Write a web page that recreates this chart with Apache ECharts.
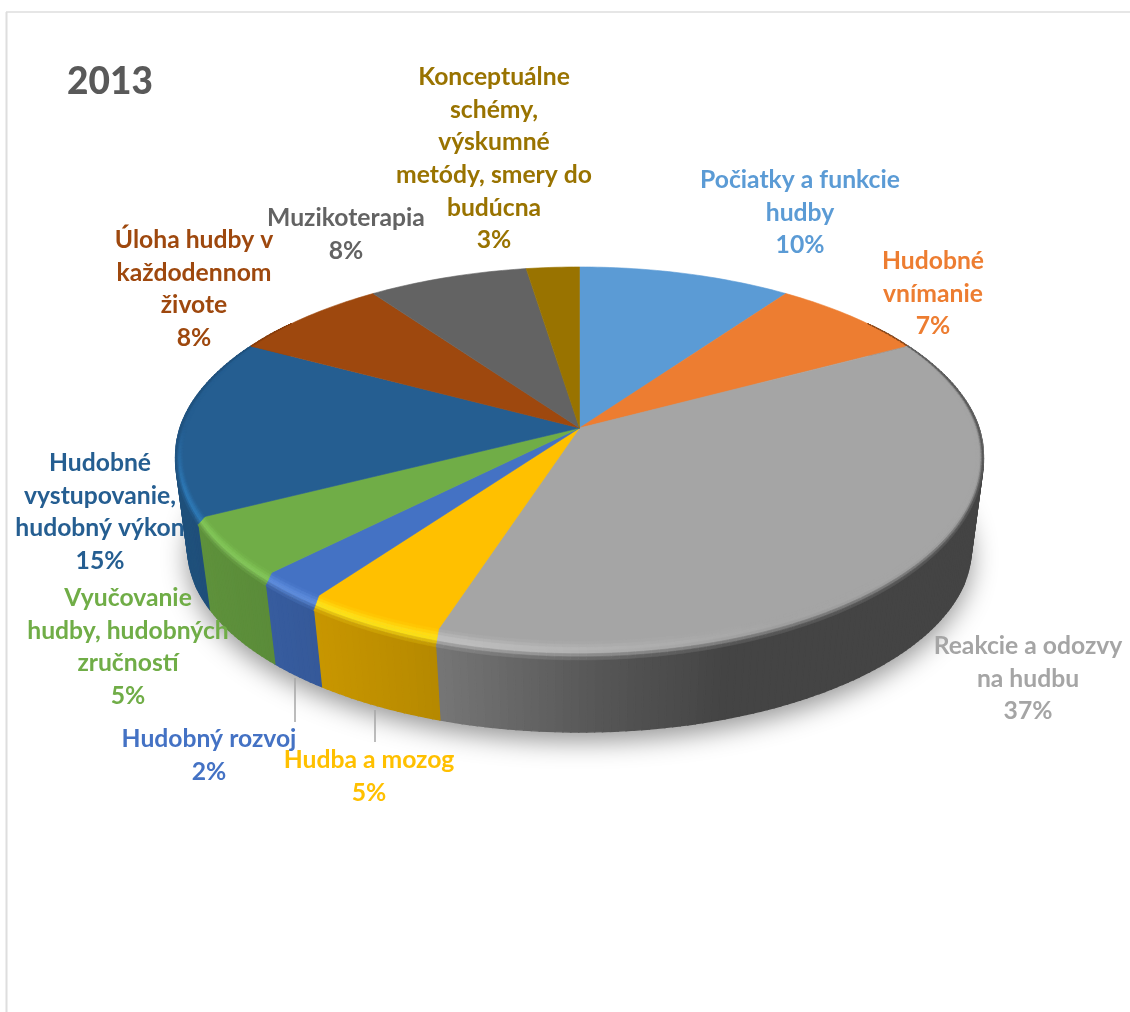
<!DOCTYPE html>
<html><head><meta charset="utf-8">
<style>html,body{margin:0;padding:0;background:#fff}#c{width:1130px;height:1012px}</style>
<script src="https://cdn.jsdelivr.net/npm/echarts@6/dist/echarts.min.js"></script>
</head><body><div id="c"></div>
<script>
const chartTitle = '2013';
const categories = [
  'Počiatky a funkcie\nhudby',
  'Hudobné\nvnímanie',
  'Reakcie a odozvy\nna hudbu',
  'Hudba a mozog',
  'Hudobný rozvoj',
  'Vyučovanie\nhudby, hudobných\nzručností',
  'Hudobné\nvystupovanie,\nhudobný výkon',
  'Úloha hudby v\nkaždodennom\nživote',
  'Muzikoterapia',
  'Konceptuálne\nschémy,\nvýskumné\nmetódy, smery do\nbudúcna'
];
const percentLabels = [10, 7, 37, 5, 2, 5, 15, 8, 8, 3];
const shares = [9.85, 7.3, 37.85, 4.95, 2.45, 5.1, 15.35, 7.3, 7.4, 2.45];

const sliceColors = ['#5b9bd5','#ed7d31','#a5a5a5','#ffc000','#4472c4','#70ad47','#255e91','#9e480e','#636363','#997300'];
const rimColors   = ['#7fb4e4','#f59a5c','#c6c6c6','#ffe81a','#5f8fe0','#84c95a','#2f7cba','#b85a18','#808080','#b58a00'];
const labelCenters = [[800,164],[933,245],[1028,630],[369,744],[209,723],[128,582],[100,447],[194,224],[346,202],[494,61]];
const leaders = [[295,678,295,722],[375,710,375,742]];

// Perspective projection of the pie's unit disc
const CX = 579.5, K = 0.15;
const TOP = {y0:428,   a:185.2, b:399.4};
const BOT = {y0:520.7, a:179.6, b:387.4};
const proj = (d, t, r) => {
  const u = r*Math.sin(t), v = -r*Math.cos(t), den = 1 - K*v;
  return [CX + d.b*u/den, d.y0 + d.a*v/den];
};
const total = shares.reduce((a,b)=>a+b,0);
const starts = []; shares.reduce((acc,v,i)=>{starts[i]=acc; return acc+v;},0);
const ang = p => p/total*2*Math.PI;
const STEP = Math.PI/180;
const angles = (a0,a1) => { const n=Math.max(2,Math.ceil((a1-a0)/STEP)), o=[]; for(let i=0;i<=n;i++)o.push(a0+(a1-a0)*i/n); return o; };

const hex = c => [1,3,5].map(i=>parseInt(c.substr(i,2),16));
const mix = (a,b,f) => a.map((x,i)=>x+(b[i]-x)*f);
const css = a => 'rgb('+a.map(Math.round).join(',')+')';
const lerpTable = (tb,x) => { if(x<=tb[0][0])return tb[0][1]; for(let i=1;i<tb.length;i++){ if(x<=tb[i][0]){const f=(x-tb[i-1][0])/(tb[i][0]-tb[i-1][0]);return tb[i-1][1]+(tb[i][1]-tb[i-1][1])*f;} } return tb[tb.length-1][1]; };
const wallF = x => lerpTable([[180,.85],[320,.78],[440,.71],[600,.52],[730,.41],[990,.41]],x);
const hlF = x => lerpTable([[180,1],[470,.9],[620,.45],[780,0],[990,0]],x);
const smooth = (v,a,b)=>Math.max(0,Math.min(1,(v-a)/(b-a)));
const rimDrop = t => 14*Math.max(0,-Math.cos(t));
const rimEdge = t => { const p=proj(TOP,t,1); return [p[0],p[1]+rimDrop(t)]; };

const poly = (pts,fill,lw) => ({type:'polygon',shape:{points:pts},style:{fill:fill,stroke:fill,lineWidth:lw||.6},silent:true});

function renderWall(params){
  const i=params.dataIndex, base=hex(sliceColors[i]), ch=[];
  const A=angles(ang(starts[i]),ang(starts[i]+shares[i]));
  for(let j=0;j<A.length-1;j++){
    const t0=A[j],t1=A[j+1];
    if(-Math.cos((t0+t1)/2)<-0.6) continue;
    const a=rimEdge(t0),b=rimEdge(t1),c=proj(BOT,t1,1),d=proj(BOT,t0,1);
    const f=wallF((a[0]+b[0])/2);
    ch.push(poly([a,b,c,d],css(base.map(x=>x*f)),1.4));
  }
  return {type:'group',children:ch};
}
function renderTop(params){
  const i=params.dataIndex, col=sliceColors[i], base=hex(col), hl=hex(rimColors[i]), ch=[];
  const A=angles(ang(starts[i]),ang(starts[i]+shares[i]));
  ch.push(poly([[CX,TOP.y0]].concat(A.map(t=>proj(TOP,t,1))),col));
  const NS=6;
  for(let j=0;j<A.length-1;j++){
    const t0=A[j],t1=A[j+1],tm=(t0+t1)/2,vm=-Math.cos(tm);
    const g=smooth(vm,-.62,-.3);
    if(g<=0) continue;
    const rin=t=>1-.018*smooth(-Math.cos(t),-.62,-.3);
    const inner=t=>proj(TOP,t,rin(t)), outer=rimEdge;
    const a0=inner(t0),a1=inner(t1),b0=outer(t0),b1=outer(t1);
    const x=(b0[0]+b1[0])/2, h=hlF(x)*smooth(vm,0,.3), wc=base.map(q=>q*wallF(x));
    const hc=mix(base,hl,h);
    for(let s=0;s<NS;s++){
      const f0=s/NS,f1=(s+1)/NS,fm=(f0+f1)/2;
      const c=fm<.55?mix(base,hc,fm/.55):mix(hc,wc,(fm-.55)/.45);
      const L=(p,q,f)=>[p[0]+(q[0]-p[0])*f,p[1]+(q[1]-p[1])*f];
      ch.push(poly([L(a0,b0,f0),L(a1,b1,f0),L(a1,b1,f1),L(a0,b0,f1)],css(c)));
    }
  }
  return {type:'group',children:ch};
}
function renderShadow(){
  const pts=angles(0,2*Math.PI).map(t=>proj(BOT,t,1));
  return {type:'polygon',shape:{points:pts},silent:true,
    style:{fill:'#bbb',shadowBlur:26,shadowColor:'rgba(0,0,0,.42)',shadowOffsetX:0,shadowOffsetY:9}};
}
function renderLabel(params){
  const i=params.dataIndex, c=labelCenters[i];
  return {type:'text',silent:true,x:c[0],y:c[1],style:{
    text:categories[i]+'\n'+percentLabels[i]+'%',fill:sliceColors[i],
    font:'bold 24.7px Lato',lineHeight:32.6,align:'center',verticalAlign:'top'}};
}
const sliceData = shares.map((v,i)=>[i,v]);
const custom = (name,z,fn,data)=>({type:'custom',name,coordinateSystem:'none',z,data:data||sliceData,renderItem:fn,animation:false,silent:true});
const chart = echarts.init(document.getElementById('c'),null,{renderer:'canvas'});
chart.setOption({
  animation:false,backgroundColor:'#fff',
  title:{text:chartTitle,left:67,top:64,padding:0,textStyle:{fontFamily:'Lato',fontWeight:900,fontSize:37,color:'#595959'}},
  tooltip:{show:false},
  graphic:[
    {type:'line',silent:true,shape:{x1:6,y1:12,x2:1130,y2:12},style:{stroke:'#dedede',lineWidth:1.5},z:0},
    {type:'line',silent:true,shape:{x1:6.5,y1:12,x2:6.5,y2:1012},style:{stroke:'#dedede',lineWidth:2},z:0}
  ].concat(leaders.map(l=>({type:'line',silent:true,z:20,shape:{x1:l[0],y1:l[1],x2:l[2],y2:l[3]},style:{stroke:'#a6a6a6',lineWidth:1.5}}))),
  series:[
    custom('shadow',1,renderShadow,[[0,1]]),
    custom('walls',2,renderWall),
    custom('tops',3,renderTop),
    custom('labels',5,renderLabel)
  ]
});
</script></body></html>
